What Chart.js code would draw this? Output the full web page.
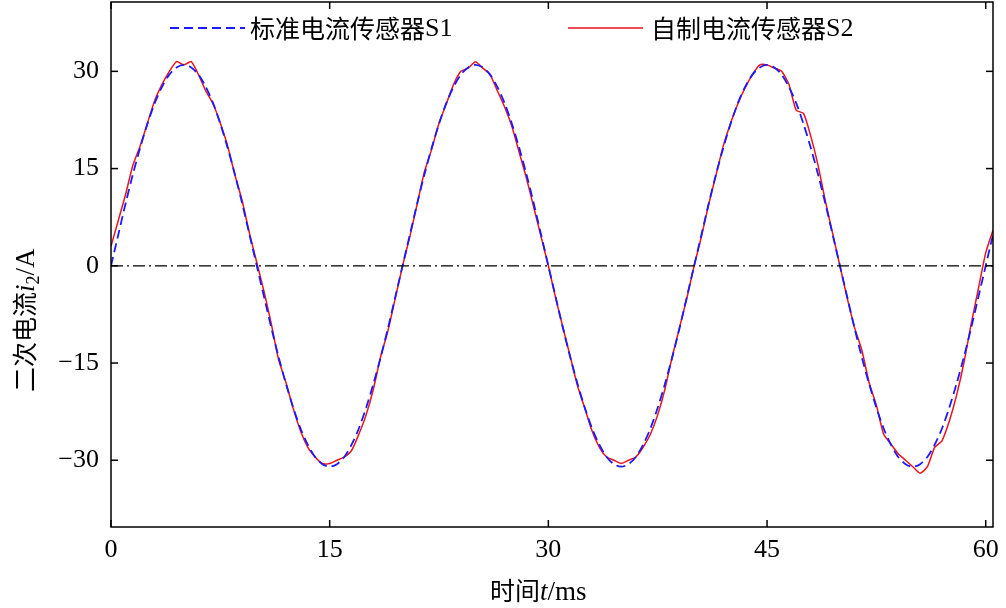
<!DOCTYPE html>
<html><head><meta charset="utf-8">
<script src="https://cdn.jsdelivr.net/npm/chart.js@4"></script>
<style>body{margin:0;background:#fff}</style>
</head><body><canvas id="c" width="1006" height="608"></canvas>
<script>
// time axis, 0.5 ms steps
const times = [];
for (let i = 0; i <= 121; i++) times.push(i * 0.5);

const s1Period = [0, 4.8, 9.6, 14.1, 18.2, 21.9, 25.1, 27.6, 29.5, 30.6, 31.0, 30.6, 29.5, 27.6, 25.1, 21.9, 18.2, 14.1, 9.6, 4.8,
  0, -4.8, -9.6, -14.1, -18.2, -21.9, -25.1, -27.6, -29.5, -30.6, -31.0, -30.6, -29.5, -27.6, -25.1, -21.9, -18.2, -14.1, -9.6, -4.8];
const s1Values = [...s1Period, ...s1Period, ...s1Period, 0, 4.8];

const s2Values = [
  3, 7, 11, 15.5, 18.5, 22, 25.5, 28, 30, 31.5, 31, 31.5, 29.5, 27, 25, 22, 18.5, 14, 10, 5,
  0.5, -4, -9, -14.5, -18, -22, -25.5, -28, -29.5, -30.5, -30.5, -30, -29.5, -28.5, -26, -23, -19, -14, -10, -5,
  0, 4.5, 9.5, 14.5, 18, 22, 25, 28, 30, 30.5, 31.5, 30.5, 29.5, 27, 24.5, 21.5, 17.5, 13.5, 9, 4.5,
  0, -5, -9.5, -14, -18.5, -22, -25.5, -28, -29.5, -30, -30.5, -30, -29.5, -28, -26, -23, -19, -14, -9.5, -5,
  0, 4.5, 9.5, 14, 18.5, 22, 25, 27.5, 29.5, 31, 31, 30.5, 30, 28, 24, 23.5, 20, 15.5, 10, 5,
  0, -5, -9.5, -13, -18, -21.5, -26, -27.5, -29, -30, -31, -32, -31, -28, -27, -24, -20, -15, -9, -3.5,
  2, 5.5];
const xTicks = [0, 15, 30, 45, 60];
const yTicks = [-30, -15, 0, 15, 30];
const zeroLine = [{x: 0, y: 0}, {x: 60.5, y: 0}];
const seriesNames = ['标准电流传感器S1', '自制电流传感器S2'];

const pts = (vals) => vals.map((v, i) => ({x: times[i], y: v}));

const serif = '"Liberation Serif", "Times New Roman", serif';
const cjk = '"Noto Sans CJK SC", sans-serif';

const decor = {
  id: 'decor',
  afterDraw(chart) {
    const ctx = chart.ctx, a = chart.chartArea;
    const xs = chart.scales.x, ys = chart.scales.y;
    ctx.save();
    ctx.strokeStyle = '#000'; ctx.lineWidth = 1.5;
    ctx.strokeRect(a.left, a.top, a.right - a.left, a.bottom - a.top);
    xTicks.forEach(t => {
      const px = xs.getPixelForValue(t);
      ctx.beginPath(); ctx.moveTo(px, a.bottom); ctx.lineTo(px, a.bottom - 7); ctx.stroke();
      ctx.beginPath(); ctx.moveTo(px, a.top); ctx.lineTo(px, a.top + 7); ctx.stroke();
    });
    yTicks.forEach(t => {
      const py = ys.getPixelForValue(t);
      ctx.beginPath(); ctx.moveTo(a.left, py); ctx.lineTo(a.left + 7, py); ctx.stroke();
      ctx.beginPath(); ctx.moveTo(a.right, py); ctx.lineTo(a.right - 7, py); ctx.stroke();
    });
    // legend
    ctx.lineWidth = 2;
    ctx.strokeStyle = '#1a1aff'; ctx.setLineDash([9, 5]);
    ctx.beginPath(); ctx.moveTo(170, 28); ctx.lineTo(245, 28); ctx.stroke();
    ctx.strokeStyle = '#e8141e'; ctx.setLineDash([]); ctx.lineWidth = 1.5;
    ctx.beginPath(); ctx.moveTo(568, 28); ctx.lineTo(643, 28); ctx.stroke();
    ctx.fillStyle = '#000'; ctx.textBaseline = 'middle';
    ctx.font = '25px ' + cjk;
    ctx.fillText('标准电流传感器', 250, 28);
    let w = ctx.measureText('标准电流传感器').width;
    ctx.font = '26px ' + serif; ctx.fillText('S1', 250 + w, 29);
    ctx.font = '25px ' + cjk;
    ctx.fillText('自制电流传感器', 651, 28);
    w = ctx.measureText('自制电流传感器').width;
    ctx.font = '26px ' + serif; ctx.fillText('S2', 651 + w, 29);
    // x title
    ctx.textBaseline = 'alphabetic';
    let x = 490, y = 600;
    ctx.font = '25px ' + cjk; ctx.fillText('时间', x, y); x += ctx.measureText('时间').width;
    ctx.font = 'italic 27px ' + serif; ctx.fillText('t', x, y); x += ctx.measureText('t').width;
    ctx.font = '27px ' + serif; ctx.fillText('/ms', x, y);
    // y title
    ctx.translate(34, 392); ctx.rotate(-Math.PI / 2);
    x = 0; y = 0;
    ctx.font = '25px ' + cjk; ctx.fillText('二次电流', x, y); x += ctx.measureText('二次电流').width;
    ctx.font = 'italic 27px ' + serif; ctx.fillText('i', x, y); x += ctx.measureText('i').width;
    ctx.font = '18px ' + serif; ctx.fillText('2', x, y + 5); x += ctx.measureText('2').width;
    ctx.font = '27px ' + serif; ctx.fillText('/A', x, y);
    ctx.restore();
  }
};

new Chart(document.getElementById('c'), {
  type: 'line',
  data: {
    datasets: [
      {label: 'zero', data: zeroLine, borderColor: '#000', borderWidth: 1.2, borderDash: [12, 4, 2, 4], pointRadius: 0},
      {label: seriesNames[0], data: pts(s1Values), borderColor: '#1a1aff', borderWidth: 1.8, borderDash: [9, 5], pointRadius: 0, tension: 0.3},
      {label: seriesNames[1], data: pts(s2Values), borderColor: '#e8141e', borderWidth: 1.5, pointRadius: 0, tension: 0.2}
    ]
  },
  options: {
    responsive: false, animation: false,
    layout: {padding: {top: 2, right: 13, left: 0, bottom: 0}},
    plugins: {legend: {display: false}, tooltip: {enabled: false}},
    scales: {
      x: {
        type: 'linear', min: 0, max: 60.5,
        afterBuildTicks: s => { s.ticks = xTicks.map(v => ({value: v})); },
        afterFit: s => { s.height = 81; s.paddingLeft = 0; s.paddingRight = 0; },
        grid: {display: false, drawTicks: false}, border: {display: false},
        ticks: {color: '#000', font: {family: serif, size: 26}, padding: 8, maxRotation: 0}
      },
      y: {
        type: 'linear', min: -40.3, max: 40.7,
        afterBuildTicks: s => { s.ticks = yTicks.map(v => ({value: v})); },
        afterFit: s => { s.width = 111; s.paddingTop = 0; s.paddingBottom = 0; },
        grid: {display: false, drawTicks: false}, border: {display: false},
        ticks: {color: '#000', font: {family: serif, size: 26}, padding: 12,
          callback: v => String(v).replace('-', '\u2212')}
      }
    }
  },
  plugins: [decor]
});
</script>
</body></html>
